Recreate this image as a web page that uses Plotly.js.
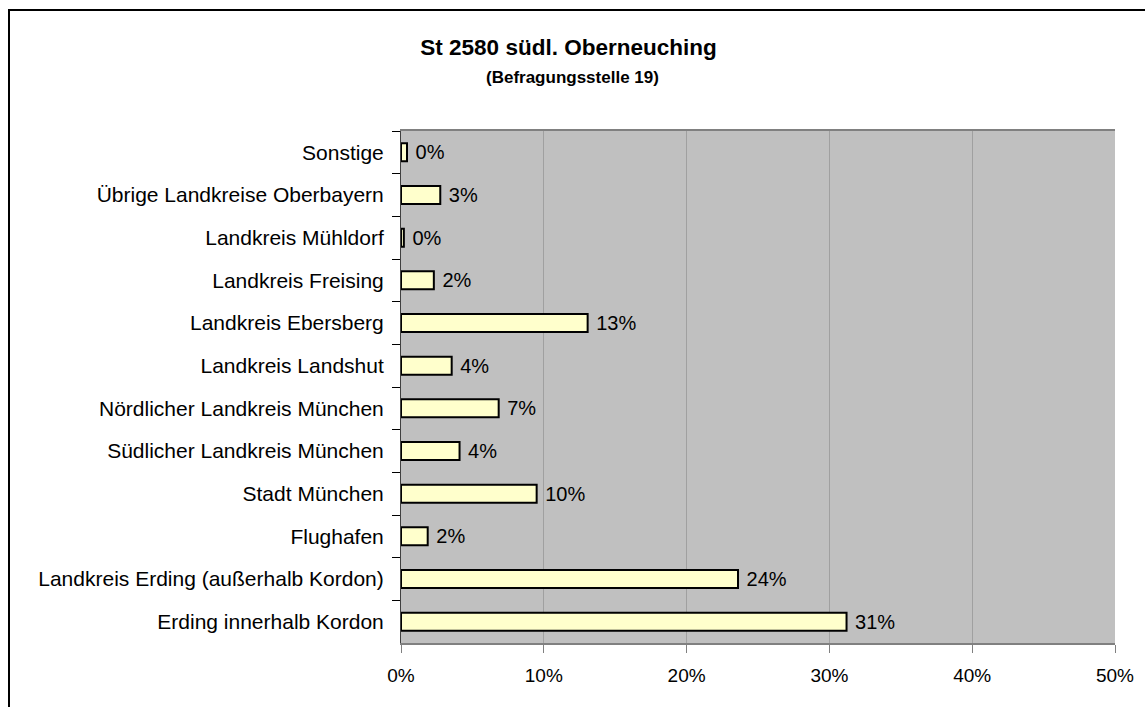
<!DOCTYPE html>
<html>
<head>
<meta charset="utf-8">
<script src="https://cdn.plot.ly/plotly-3.0.1.min.js"></script>
<style>
  html, body { margin: 0; padding: 0; background: #fff; }
  #frame { position: absolute; left: 8px; top: 9px; width: 1200px; height: 760px;
           border-left: 2px solid #000; border-top: 2px solid #000; }
  #chart { position: absolute; left: 0; top: 0; width: 1145px; height: 707px; }
</style>
</head>
<body>
<div id="frame"></div>
<div id="chart"></div>
<script>
const categories = [
  "Sonstige",
  "Übrige Landkreise Oberbayern",
  "Landkreis Mühldorf",
  "Landkreis Freising",
  "Landkreis Ebersberg",
  "Landkreis Landshut",
  "Nördlicher Landkreis München",
  "Südlicher Landkreis München",
  "Stadt München",
  "Flughafen",
  "Landkreis Erding (außerhalb Kordon)",
  "Erding innerhalb Kordon"
];
const shares = [0.0042, 0.0275, 0.002, 0.023, 0.1307, 0.0355, 0.0684, 0.041, 0.095, 0.0187, 0.236, 0.312];
const xTickVals = [0, 0.1, 0.2, 0.3, 0.4, 0.5];
const xTickText = ["0%", "10%", "20%", "30%", "40%", "50%"];
const titleText = "St 2580 südl. Oberneuching";
const subtitleText = "(Befragungsstelle 19)";

const font = "Liberation Sans, Arial, sans-serif";

const trace = {
  type: "bar",
  orientation: "h",
  y: categories,
  x: shares,
  marker: { color: "#ffffcc", line: { color: "#000000", width: 2 } },
  text: shares.map(v => "\u00a0" + Math.round(v * 100) + "%"),
  textposition: "outside",
  constraintext: "none",
  cliponaxis: false,
  textfont: { family: font, size: 20, color: "#000" },
  hoverinfo: "none"
};

const layout = {
  width: 1145, height: 707,
  margin: { l: 401, r: 30, t: 131, b: 64 },
  paper_bgcolor: "rgba(0,0,0,0)",
  plot_bgcolor: "#c0c0c0",
  bargap: 0.58,
  showlegend: false,
  title: {
    text: "<b>" + titleText + "</b>",
    font: { family: font, size: 22.5, color: "#000" },
    x: 0.4965, xref: "container", xanchor: "center",
    y: 1 - 47 / 707, yref: "container", yanchor: "middle"
  },
  annotations: [{
    text: "<b>" + subtitleText + "</b>",
    font: { family: font, size: 17, color: "#000" },
    showarrow: false,
    xref: "paper", yref: "paper",
    x: (572 - 401) / 714, y: 1 + 54 / 512,
    xanchor: "center", yanchor: "middle"
  }],
  xaxis: {
    range: [0, 0.5],
    tickvals: xTickVals,
    ticktext: xTickText,
    ticks: "outside", ticklen: 8, tickcolor: "#808080", tickwidth: 1,
    showgrid: true, gridcolor: "#a0a0a0", gridwidth: 1,
    showline: true, linecolor: "#808080", linewidth: 2, mirror: true,
    zeroline: false,
    tickfont: { family: font, size: 19, color: "#000" },
    ticklabelstandoff: 6,
    fixedrange: true
  },
  yaxis: {
    autorange: "reversed",
    ticks: "outside", ticklen: 8, tickcolor: "#000", tickwidth: 1,
    tickson: "boundaries",
    showgrid: false,
    showline: true, linecolor: "#404040", linewidth: 1,
    tickfont: { family: font, size: 21, color: "#000" },
    ticklabelstandoff: 12,
    fixedrange: true
  }
};

Plotly.newPlot("chart", [trace], layout, { displayModeBar: false, staticPlot: true });
</script>
</body>
</html>
